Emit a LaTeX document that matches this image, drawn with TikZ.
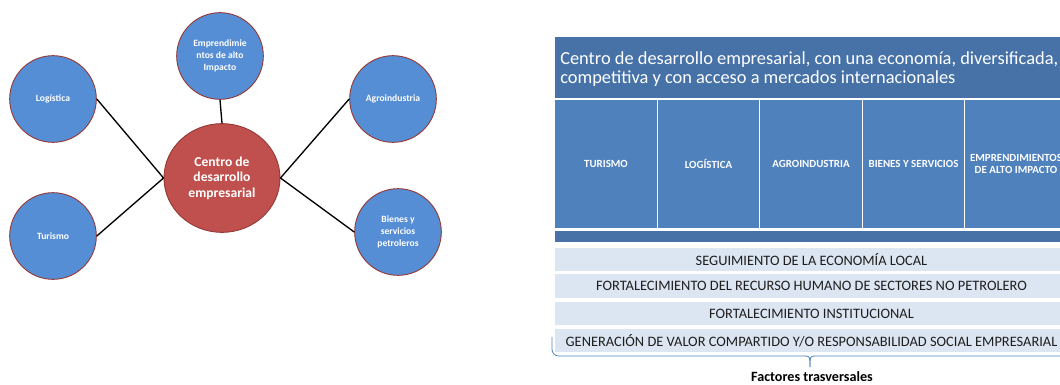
\documentclass[tikz,border=0pt]{standalone}
\usepackage{fontspec}
\setmainfont{Carlito}
\usepackage{tikz}
\usetikzlibrary{shapes.geometric}

\definecolor{circblue}{RGB}{85,142,213}
\definecolor{circborder}{RGB}{150,58,56}
\definecolor{centrored}{RGB}{192,80,77}
\definecolor{hdrblue}{RGB}{70,114,168}
\definecolor{colblue}{RGB}{79,129,189}
\definecolor{rowlight}{RGB}{220,230,242}
\definecolor{rowtext}{RGB}{30,30,30}

\begin{document}
\begin{tikzpicture}[x=0.75pt,y=0.75pt,yscale=-1,xscale=1,
    eje/.style={circle, fill=circblue, draw=circborder, line width=0.7pt, minimum size=65pt, inner sep=1pt, align=center, text=white, font=\fontsize{7.2}{8.8}\selectfont\bfseries},
    centro/.style={ellipse, fill=centrored, draw=circborder, line width=0.7pt, minimum width=87pt, minimum height=81.5pt, inner sep=1pt, align=center, text=white, font=\fontsize{10.2}{11.6}\selectfont\bfseries},
    conector/.style={draw=black, line width=1pt},
    banda/.style={fill=hdrblue, draw=none, minimum width=384.75pt, inner sep=0pt},
    columna/.style={rectangle, fill=colblue, draw=white, line width=1pt, minimum width=76.9pt, minimum height=97.5pt, inner sep=1pt, align=center, text=white, font=\fontsize{8.2}{9.4}\selectfont\bfseries},
    factor/.style={rectangle, fill=rowlight, draw=none, minimum width=384.75pt, minimum height=17.6pt, inner sep=0pt, text=rowtext, font=\fontsize{10.8}{12}\selectfont}]
        \useasboundingbox (0,0) rectangle (1060,385);

        % mapa de ejes
        \node[centro] (centro) at (222,178) {Centro de\\desarrollo\\empresarial};
        \node[eje] (emp) at (220,56) {Emprendimie\\ntos de alto\\Impacto};
        \node[eje] (logi) at (53,99) {Logística};
        \node[eje] (turi) at (53,236) {Turismo};
        \node[eje] (agro) at (393,99) {Agroindustria};
        \node[eje] (bien) at (398,232) {Bienes y\\servicios\\petroleros};

        \draw[conector] (emp.south) -- (centro.north);
        \draw[conector] (logi.east) -- (centro.west);
        \draw[conector] (turi.east) -- (centro.west);
        \draw[conector] (agro.west) -- (centro.east);
        \draw[conector] (bien.west) -- (centro.east);

        % cuadro de la vision
        \node[banda, minimum height=45.75pt] (hdr) at (811.5,67.5) {};
        \node[anchor=west, align=left, inner sep=0pt, text=white, font=\fontsize{13.8}{14.4}\selectfont] (hdrtxt) at (560,69) {Centro de desarrollo empresarial, con una economía, diversificada,\\competitiva y con acceso a mercados internacionales};

        \node[columna] (c1) at (606,164) {TURISMO};
        \node[columna] (c2) at (708.5,164) {LOGÍSTICA};
        \node[columna] (c3) at (811,164) {AGROINDUSTRIA};
        \node[columna] (c4) at (913.5,164) {BIENES Y SERVICIOS};
        \node[columna] (c5) at (1016,164) {EMPRENDIMIENTOS\\DE ALTO IMPACTO};

        \node[banda, minimum height=8.4pt] (base) at (811.5,236.5) {};

        % factores trasversales
        \node[factor] (f1) at (811.5,259.3) {SEGUIMIENTO DE LA ECONOMÍA LOCAL};
        \node[factor] (f2) at (811.5,286) {FORTALECIMIENTO DEL RECURSO HUMANO DE SECTORES NO PETROLERO};
        \node[factor] (f3) at (811.5,313.5) {FORTALECIMIENTO INSTITUCIONAL};
        \node[factor] (f4) at (811.5,340.3) {GENERACIÓN DE VALOR COMPARTIDO Y/O RESPONSABILIDAD SOCIAL EMPRESARIAL};

        \draw[colblue, line width=0.6pt, rounded corners=5] (552,337) -- (552,356) -- (804,356);
        \draw[colblue, line width=0.6pt] (804,356) .. controls (810,356) .. (810,367);
        \draw[colblue, line width=0.6pt, rounded corners=5] (1068,337) -- (1068,356) -- (816,356);
        \draw[colblue, line width=0.6pt] (816,356) .. controls (810,356) .. (810,367);
        \node[anchor=north, inner sep=0pt, font=\fontsize{10.6}{12}\selectfont\bfseries] (factores) at (812,371) {Factores trasversales};
\end{tikzpicture}
\end{document}
